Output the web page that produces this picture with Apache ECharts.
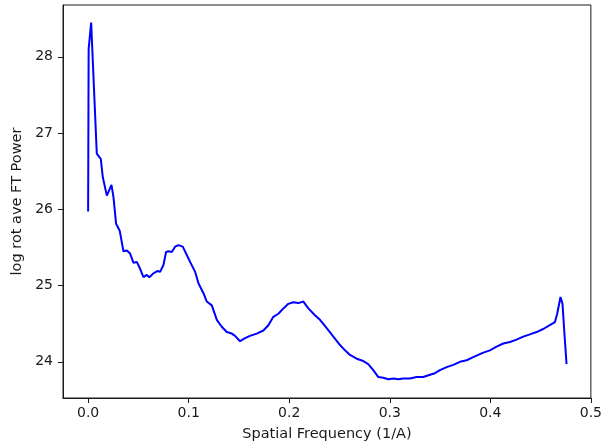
<!DOCTYPE html>
<html>
<head>
<meta charset="utf-8">
<script src="https://cdn.jsdelivr.net/npm/echarts@6/dist/echarts.min.js"></script>
<style>
  html, body { margin: 0; padding: 0; background: #fff; }
  #chart { width: 605px; height: 448px; }
</style>
</head>
<body>
<div id="chart"></div>
<script>
// spatial frequency (1/A) and log rotational average power
const freq = [
  0.0, 0.0005, 0.003, 0.0086, 0.0126, 0.0146, 0.0186, 0.0232, 0.0252, 0.0278, 0.0314,
  0.0351, 0.0385, 0.0417, 0.045, 0.0484, 0.0517, 0.055, 0.0583, 0.0609, 0.0649,
  0.0689, 0.0716, 0.0749, 0.0775, 0.0798, 0.0832, 0.0865, 0.0898, 0.0941, 0.0974,
  0.1014, 0.1064, 0.1097, 0.1147, 0.118, 0.123, 0.128, 0.1329, 0.1379, 0.1429,
  0.1461, 0.1511, 0.1561, 0.161, 0.1677, 0.1743, 0.1793, 0.1842, 0.1892, 0.1942,
  0.1991, 0.2041, 0.2091, 0.2141, 0.219, 0.2256, 0.2306, 0.2373, 0.2439, 0.2505,
  0.2555, 0.2604, 0.2671, 0.2737, 0.2786, 0.2836, 0.2886, 0.2935, 0.2985, 0.3035,
  0.3085, 0.3134, 0.3201, 0.3267, 0.3333, 0.34, 0.3449, 0.3499, 0.3566, 0.3632,
  0.3698, 0.3764, 0.383, 0.3863, 0.393, 0.3996, 0.4062, 0.4129, 0.4195, 0.4261,
  0.4327, 0.4394, 0.446, 0.4526, 0.4592, 0.4642, 0.4665, 0.4698, 0.4718, 0.4735,
  0.4758
]
const power = [
  25.97, 28.1, 28.45, 26.73, 26.66, 26.42, 26.18, 26.32, 26.16, 25.81, 25.72,
  25.45, 25.46, 25.42, 25.3, 25.31, 25.22, 25.11, 25.14, 25.11, 25.16,
  25.19, 25.18, 25.27, 25.44, 25.45, 25.44, 25.51, 25.53, 25.51, 25.42,
  25.31, 25.18, 25.03, 24.9, 24.79, 24.74, 24.55, 24.46, 24.39, 24.37,
  24.34, 24.27, 24.31, 24.34, 24.37, 24.41, 24.48, 24.59, 24.63, 24.7,
  24.76, 24.78, 24.77, 24.79, 24.7, 24.61, 24.55, 24.44, 24.33, 24.22,
  24.15, 24.09, 24.04, 24.01, 23.97, 23.89, 23.8, 23.79, 23.77, 23.78,
  23.77, 23.78, 23.78, 23.8, 23.8, 23.83, 23.85, 23.89, 23.93, 23.96,
  24.0, 24.02, 24.06, 24.08, 24.12, 24.15, 24.2, 24.24, 24.26, 24.29,
  24.33, 24.36, 24.39, 24.43, 24.48, 24.52, 24.63, 24.85, 24.76, 24.41,
  23.97
]
const xTicks = [0.0, 0.1, 0.2, 0.3, 0.4, 0.5]
const yTicks = [24, 25, 26, 27, 28]

const font = 'DejaVu Sans'
const ink = '#1a1a1a'

let chart = echarts.init(document.getElementById('chart'), null, { renderer: 'canvas' })

chart.setOption({
  animation: false,
  backgroundColor: '#fff',
  grid: {
    left: 63, right: 14, top: 5, bottom: 50,
    show: true, borderColor: ink, borderWidth: 1, backgroundColor: 'transparent'
  },
  xAxis: {
    type: 'value',
    min: -0.025,
    max: 0.5,
    name: 'Spatial Frequency (1/A)',
    nameLocation: 'middle',
    nameGap: 29,
    nameTextStyle: { fontFamily: font, fontSize: 14.5, color: ink },
    splitLine: { show: false },
    axisLine: { show: true, onZero: false, lineStyle: { color: ink, width: 1 } },
    axisTick: { show: true, length: 5, customValues: xTicks, lineStyle: { color: ink } },
    axisLabel: {
      customValues: xTicks,
      margin: 8,
      fontFamily: font, fontSize: 14, color: ink,
      formatter: (v) => v.toFixed(1)
    }
  },
  yAxis: {
    type: 'value',
    min: 23.525,
    max: 28.68,
    name: 'log rot ave FT Power',
    nameLocation: 'middle',
    nameGap: 37,
    nameTextStyle: { fontFamily: font, fontSize: 14.5, color: ink },
    splitLine: { show: false },
    axisLine: { show: true, onZero: false, lineStyle: { color: ink, width: 1 } },
    axisTick: { show: true, length: 5, customValues: yTicks, lineStyle: { color: ink } },
    axisLabel: {
      customValues: yTicks,
      margin: 10,
      fontFamily: font, fontSize: 14, color: ink
    }
  },
  series: [{
    type: 'line',
    data: freq.map((f, i) => [f, power[i]]),
    showSymbol: false,
    symbol: 'none',
    smooth: false,
    lineStyle: { color: '#0000ff', width: 2 }
  }]
})
</script>
</body>
</html>
